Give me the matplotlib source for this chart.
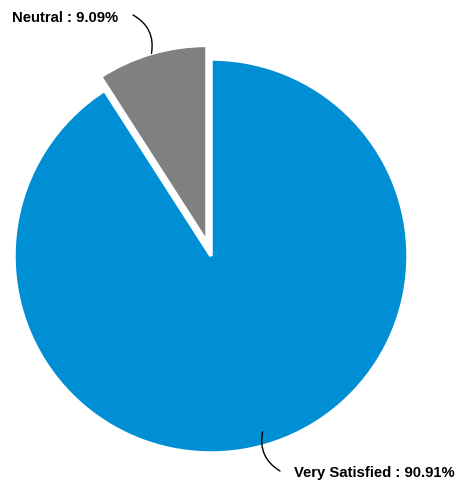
import numpy as np
import matplotlib
matplotlib.use('Agg')
import matplotlib.pyplot as plt

# data
labels = ['Neutral', 'Very Satisfied']
values = [9.09, 90.91]
colors = ['#808080', '#008FD5']

plt.rcParams['font.family'] = ['Liberation Sans', 'DejaVu Sans']

fig = plt.figure(figsize=(4.59, 4.86), dpi=100)
ax = fig.add_axes([0, 0, 1, 1])

# pie centre at pixel (211, 256), radius 197 px
cx, cy, r = 211, 256, 197

wedges, _ = ax.pie(values, colors=colors, startangle=90, counterclock=True,
                   explode=[0.072, 0], radius=1.0,
                   wedgeprops=dict(edgecolor='white', linewidth=2.5))
ax.set_xlim(-cx / r, (459 - cx) / r)
ax.set_ylim(-(486 - cy) / r, cy / r)
ax.set_aspect('auto')
ax.axis('off')

# label layout: start point radius, label point (px from centre), text gap
label_cfg = [
    dict(rpt=1.0, lbl=(-78, 241), ty=-3, ha='right', dx=-15, rad=-0.35),
    dict(rpt=0.93, lbl=(69, -215), ty=-2, ha='left', dx=14, rad=-0.35),
]
for w, lab, v, cfg in zip(wedges, labels, values, label_cfg):
    mid = np.deg2rad((w.theta1 + w.theta2) / 2)
    ox, oy = w.center
    px = ox + cfg['rpt'] * np.cos(mid)
    py = oy + cfg['rpt'] * np.sin(mid)
    lx, ly = cfg['lbl'][0] / r, cfg['lbl'][1] / r
    ax.annotate('', xy=(px, py), xytext=(lx, ly),
                arrowprops=dict(arrowstyle='-', color='black', lw=1,
                                shrinkA=0, shrinkB=0,
                                connectionstyle='arc3,rad=%s' % cfg['rad']))
    ax.text(lx + cfg['dx'] / r, ly + cfg['ty'] / r, '%s : %.2f%%' % (lab, v),
            ha=cfg['ha'], va='center', fontsize=10.7, fontweight='bold',
            color='black')

plt.savefig('out.png', dpi=100)
